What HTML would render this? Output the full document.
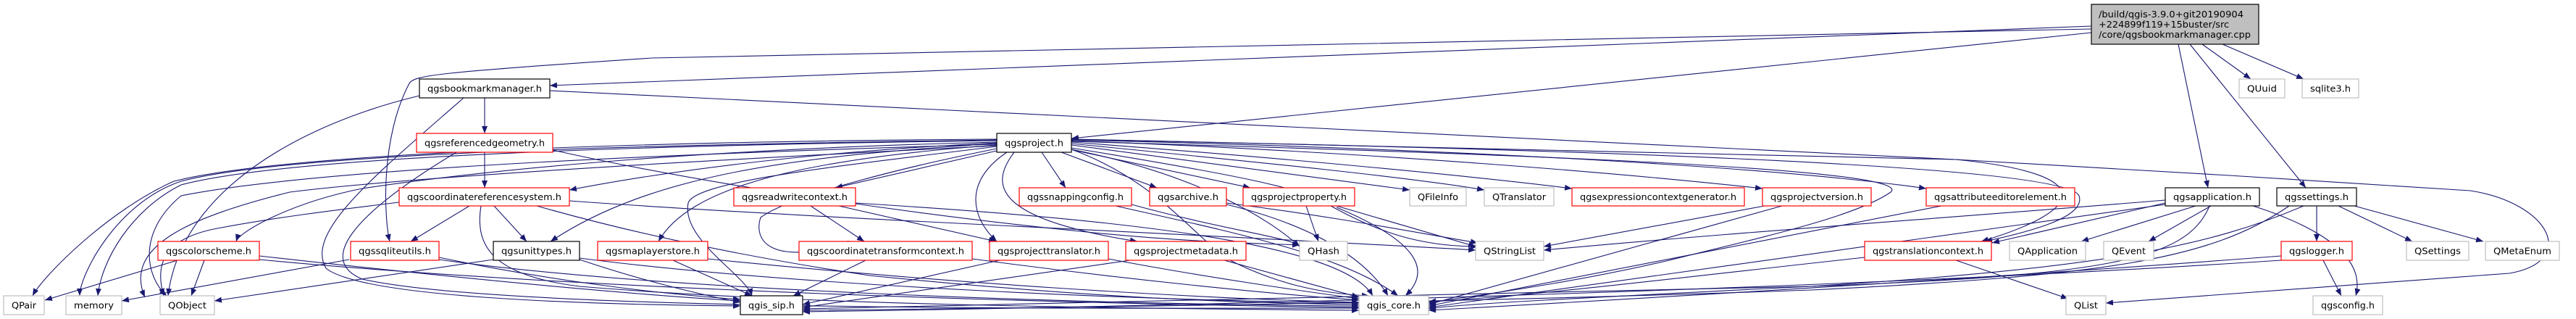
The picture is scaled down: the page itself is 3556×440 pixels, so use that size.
<!DOCTYPE html>
<html><head><meta charset="utf-8"><style>
html,body{margin:0;padding:0;background:#fff;}
svg{display:block;}
text{font-family:"DejaVu Sans","Liberation Sans",sans-serif;font-size:12px;fill:#000;}
.e{fill:none;stroke:#191970;stroke-width:1.1;marker-end:url(#a);}
.bk{fill:#fff;stroke:#000;stroke-width:1.2;}
.rd{fill:#fff;stroke:#ff0000;stroke-width:1.2;}
.gy{fill:#fff;stroke:#bfbfbf;stroke-width:1.2;}
</style></head><body>
<svg width="3556" height="440" viewBox="0 0 3556 440" xmlns="http://www.w3.org/2000/svg">
<defs><marker id="a" markerUnits="userSpaceOnUse" markerWidth="10" markerHeight="8" refX="10" refY="4" orient="auto"><path d="M0,0 L10,4 L0,8 z" fill="#191970"/></marker></defs>
<g>
<!-- main edges -->
<path class="e" d="M2887,36 L759,118"/>
<path class="e" d="M2887,40 L900,80 C600,100 572,104 565,115 C525,190 530,300 538,333"/>
<path class="e" d="M2887,45 L1479,191"/>
<path class="e" d="M3007,61 L3048,259"/>
<path class="e" d="M3023,61 L3183,259"/>
<path class="e" d="M3040,61 L3107,109"/>
<path class="e" d="M3068,61 L3180,109"/>
<!-- bookmarkmanager -->
<path class="e" d="M669,135 L669,184"/>
<path class="e" d="M579,132 C420,170 250,260 232,408"/>
<path class="e" d="M640,135 C520,240 420,320 450,370 C500,410 800,420 1022,422"/>
<path class="e" d="M759,125 L2700,220 C2900,240 2880,290 2735,333"/>
<!-- referencedgeometry -->
<path class="e" d="M669,210 L669,259"/>
<path class="e" d="M763,207 C1000,260 1300,300 1500,320 C1650,335 1750,336 1794,338"/>
<path class="e" d="M630,210 C480,300 440,360 500,385 C700,430 1500,425 1876,425"/>
<!-- crs -->
<path class="e" d="M648,284 L567,333"/>
<path class="e" d="M682,284 L727,333"/>
<path class="e" d="M741,284 C850,315 1000,350 1200,380 C1500,410 1700,418 1876,420"/>
<path class="e" d="M551,279 C460,290 380,300 300,315 C220,330 215,370 226,408"/>
<path class="e" d="M664,284 C655,340 680,380 800,395 C1100,420 1500,425 1876,428"/>
<path class="e" d="M786,277 C1100,300 1600,320 2037,345"/>
<!-- level4 left -->
<path class="e" d="M245,359 L62,414"/>
<path class="e" d="M282,359 L264,408"/>
<path class="e" d="M358,353 C600,380 850,405 1022,415"/>
<path class="e" d="M358,358 C800,400 1500,420 1876,424"/>
<path class="e" d="M482,358 L168,415"/>
<path class="e" d="M606,355 C750,385 900,405 1022,413"/>
<path class="e" d="M606,358 C900,400 1500,420 1876,422"/>
<path class="e" d="M681,358 L296,415"/>
<path class="e" d="M800,358 C880,385 960,405 1022,417"/>
<path class="e" d="M800,356 C1100,395 1600,415 1876,418"/>
<path class="e" d="M929,359 L1038,408"/>
<path class="e" d="M977,357 C1300,390 1650,412 1876,417"/>
<path class="e" d="M1195,359 L1095,408"/>
<path class="e" d="M1342,357 C1550,385 1750,405 1876,414"/>
<path class="e" d="M1380,359 L1108,420"/>
<path class="e" d="M1530,357 C1650,380 1800,402 1876,412"/>
<path class="e" d="M1560,359 C1350,390 1200,410 1108,424"/>
<path class="e" d="M1690,359 L1876,410"/>
<!-- readwritecontext -->
<path class="e" d="M1119,284 L1193,333"/>
<path class="e" d="M1158,284 L1375,333"/>
<path class="e" d="M1181,280 C1500,300 1850,330 1895,408"/>
<!-- qgsproject fan -->
<path class="e" d="M1376,208 L1153,259"/>
<path class="e" d="M1438,210 L1471,259"/>
<path class="e" d="M1465,210 L1597,259"/>
<path class="e" d="M1481,207 L1726,259"/>
<path class="e" d="M1479,200 C1700,230 1850,250 1946,262"/>
<path class="e" d="M1479,198 C1750,225 1950,245 2049,262"/>
<path class="e" d="M1479,196 C1800,220 2050,245 2170,260"/>
<path class="e" d="M1479,194 C1900,210 2250,240 2433,260"/>
<path class="e" d="M1479,193 C2000,205 2450,230 2659,260"/>
<path class="e" d="M1479,192 L2700,220 C2900,230 3200,250 3410,263 C3520,280 3560,360 3464,377 L2907,418"/>
<path class="e" d="M1479,195 C2000,210 2650,230 2610,265 C2560,300 2420,330 2300,360 C2150,395 2000,412 1972,418"/>
<path class="e" d="M1479,192 C2100,205 2850,225 2870,270 C2880,300 2800,320 2740,333"/>
<path class="e" d="M1479,204 C1700,240 1800,260 1830,280 C1900,320 1960,340 2040,340"/>
<path class="e" d="M1479,206 C1650,240 1750,300 1794,340"/>
<path class="e" d="M1390,210 C1330,250 1340,300 1376,333"/>
<path class="e" d="M1400,210 C1370,250 1360,300 1570,333"/>
<path class="e" d="M1376,205 C1250,230 1090,270 1050,300 C1040,330 1060,370 1180,333"/>
<path class="e" d="M1376,202 C1150,230 960,250 950,280 C940,330 1030,380 1038,408"/>
<path class="e" d="M1376,200 C1100,220 950,260 909,333"/>
<path class="e" d="M1376,198 C1100,215 900,240 760,333"/>
<path class="e" d="M1376,197 C1100,210 900,240 786,262"/>
<path class="e" d="M1376,196 C1000,205 700,230 500,260 C400,280 330,320 326,333"/>
<path class="e" d="M1376,194 C900,200 400,215 250,255 C180,290 140,360 135,408"/>
<path class="e" d="M1376,193 C900,200 400,210 250,250 C160,280 110,380 110,408"/>
<path class="e" d="M1376,192 C900,195 400,210 240,250 C150,290 60,380 45,408"/>
<path class="e" d="M1376,199 C1000,210 450,230 250,270 C190,320 200,380 230,408"/>
<path class="e" d="M1376,201 C1100,215 600,240 400,265 C260,300 170,340 200,410"/>
<path class="e" d="M1479,206 C1600,250 1650,330 1700,360 C1760,390 1820,405 1890,408"/>
<!-- right level3 -->
<path class="e" d="M1540,284 C1700,320 1850,350 1930,408"/>
<path class="e" d="M1562,282 C1700,320 1800,330 1794,342"/>
<path class="e" d="M1693,282 C1850,320 1900,380 1916,408"/>
<path class="e" d="M1693,280 C1850,300 1950,320 2040,335"/>
<path class="e" d="M1803,284 L1820,333"/>
<path class="e" d="M1845,284 L2037,340"/>
<path class="e" d="M1845,286 C1950,330 1980,370 1940,408"/>
<path class="e" d="M2436,284 L2131,340"/>
<path class="e" d="M2460,284 L1972,420"/>
<path class="e" d="M2680,284 L1972,422"/>
<!-- qgsapplication -->
<path class="e" d="M3031,284 L2873,333"/>
<path class="e" d="M3052,284 L2966,333"/>
<path class="e" d="M3110,284 C3160,300 3270,340 3252,408"/>
<path class="e" d="M2989,280 L2750,335"/>
<path class="e" d="M2989,276 C2700,300 2400,320 2131,345"/>
<path class="e" d="M2989,282 C2700,320 2300,380 1972,424"/>
<path class="e" d="M3050,284 C3020,360 2900,380 2500,395 C2000,410 1500,420 1108,426"/>
<!-- settings -->
<path class="e" d="M3198,284 L3198,333"/>
<path class="e" d="M3228,284 L3330,333"/>
<path class="e" d="M3250,284 L3428,333"/>
<path class="e" d="M3180,284 C3050,340 2900,370 2500,395 C2200,410 2000,420 1972,426"/>
<path class="e" d="M3160,284 C3050,360 2900,380 2500,400 C2000,418 1500,424 1108,428"/>
<!-- logger, translationcontext -->
<path class="e" d="M3207,359 L3232,408"/>
<path class="e" d="M3149,353 C2800,380 2300,410 1972,428"/>
<path class="e" d="M3149,359 C2600,395 1800,420 1108,430"/>
<path class="e" d="M2700,359 L2855,412"/>
<path class="e" d="M2574,355 C2300,385 2100,410 1972,416"/>
</g>
<!-- nodes -->
<g>
<rect class="gy" x="2887" y="6" width="231" height="55" style="fill:#bfbfbf;stroke:#000"/>
<text x="2897" y="24" textLength="200" lengthAdjust="spacingAndGlyphs">/build/qgis-3.9.0+git20190904</text>
<text x="2897" y="38" textLength="180" lengthAdjust="spacingAndGlyphs">+224899f119+15buster/src</text>
<text x="2897" y="52" textLength="210" lengthAdjust="spacingAndGlyphs">/core/qgsbookmarkmanager.cpp</text>

<rect class="bk" x="579" y="109" width="180" height="26"/><text x="669" y="126.5" text-anchor="middle" textLength="158" lengthAdjust="spacingAndGlyphs">qgsbookmarkmanager.h</text>
<rect class="rd" x="575" y="184" width="188" height="26"/><text x="669" y="201.5" text-anchor="middle" textLength="166" lengthAdjust="spacingAndGlyphs">qgsreferencedgeometry.h</text>
<rect class="bk" x="1376" y="184" width="103" height="26"/><text x="1427.5" y="201.5" text-anchor="middle" textLength="81" lengthAdjust="spacingAndGlyphs">qgsproject.h</text>
<rect class="gy" x="3091" y="109" width="63" height="26"/><text x="3122.5" y="126.5" text-anchor="middle" textLength="41" lengthAdjust="spacingAndGlyphs">QUuid</text>
<rect class="gy" x="3178" y="109" width="78" height="26"/><text x="3217" y="126.5" text-anchor="middle" textLength="56" lengthAdjust="spacingAndGlyphs">sqlite3.h</text>

<rect class="rd" x="551" y="259" width="235" height="25"/><text x="668.5" y="276" text-anchor="middle" textLength="213" lengthAdjust="spacingAndGlyphs">qgscoordinatereferencesystem.h</text>
<rect class="rd" x="1013" y="259" width="168" height="25"/><text x="1097" y="276" text-anchor="middle" textLength="146" lengthAdjust="spacingAndGlyphs">qgsreadwritecontext.h</text>
<rect class="rd" x="1407" y="259" width="155" height="25"/><text x="1484.5" y="276" text-anchor="middle" textLength="133" lengthAdjust="spacingAndGlyphs">qgssnappingconfig.h</text>
<rect class="rd" x="1587" y="259" width="106" height="25"/><text x="1640" y="276" text-anchor="middle" textLength="84" lengthAdjust="spacingAndGlyphs">qgsarchive.h</text>
<rect class="rd" x="1716" y="259" width="154" height="25"/><text x="1793" y="276" text-anchor="middle" textLength="132" lengthAdjust="spacingAndGlyphs">qgsprojectproperty.h</text>
<rect class="gy" x="1946" y="259" width="78" height="25"/><text x="1985" y="276" text-anchor="middle" textLength="56" lengthAdjust="spacingAndGlyphs">QFileInfo</text>
<rect class="gy" x="2049" y="259" width="96" height="25"/><text x="2097" y="276" text-anchor="middle" textLength="74" lengthAdjust="spacingAndGlyphs">QTranslator</text>
<rect class="rd" x="2170" y="259" width="238" height="25"/><text x="2289" y="276" text-anchor="middle" textLength="216" lengthAdjust="spacingAndGlyphs">qgsexpressioncontextgenerator.h</text>
<rect class="rd" x="2433" y="259" width="150" height="25"/><text x="2508" y="276" text-anchor="middle" textLength="128" lengthAdjust="spacingAndGlyphs">qgsprojectversion.h</text>
<rect class="rd" x="2659" y="259" width="205" height="25"/><text x="2761.5" y="276" text-anchor="middle" textLength="183" lengthAdjust="spacingAndGlyphs">qgsattributeeditorelement.h</text>
<rect class="bk" x="2989" y="259" width="130" height="25"/><text x="3054" y="276" text-anchor="middle" textLength="108" lengthAdjust="spacingAndGlyphs">qgsapplication.h</text>
<rect class="bk" x="3143" y="259" width="110" height="25"/><text x="3198" y="276" text-anchor="middle" textLength="88" lengthAdjust="spacingAndGlyphs">qgssettings.h</text>

<rect class="rd" x="218" y="333" width="140" height="26"/><text x="288" y="350.5" text-anchor="middle" textLength="118" lengthAdjust="spacingAndGlyphs">qgscolorscheme.h</text>
<rect class="rd" x="484" y="333" width="122" height="26"/><text x="545" y="350.5" text-anchor="middle" textLength="100" lengthAdjust="spacingAndGlyphs">qgssqliteutils.h</text>
<rect class="bk" x="681" y="333" width="119" height="26"/><text x="740.5" y="350.5" text-anchor="middle" textLength="97" lengthAdjust="spacingAndGlyphs">qgsunittypes.h</text>
<rect class="rd" x="825" y="333" width="152" height="26"/><text x="901" y="350.5" text-anchor="middle" textLength="130" lengthAdjust="spacingAndGlyphs">qgsmaplayerstore.h</text>
<rect class="rd" x="1103" y="333" width="239" height="26"/><text x="1222.5" y="350.5" text-anchor="middle" textLength="217" lengthAdjust="spacingAndGlyphs">qgscoordinatetransformcontext.h</text>
<rect class="rd" x="1366" y="333" width="164" height="26"/><text x="1448" y="350.5" text-anchor="middle" textLength="142" lengthAdjust="spacingAndGlyphs">qgsprojecttranslator.h</text>
<rect class="rd" x="1554" y="333" width="166" height="26"/><text x="1637" y="350.5" text-anchor="middle" textLength="144" lengthAdjust="spacingAndGlyphs">qgsprojectmetadata.h</text>
<rect class="gy" x="1794" y="333" width="66" height="26"/><text x="1827" y="350.5" text-anchor="middle" textLength="44" lengthAdjust="spacingAndGlyphs">QHash</text>
<rect class="gy" x="2037" y="333" width="94" height="26"/><text x="2084" y="350.5" text-anchor="middle" textLength="72" lengthAdjust="spacingAndGlyphs">QStringList</text>
<rect class="rd" x="2574" y="333" width="175" height="26"/><text x="2661.5" y="350.5" text-anchor="middle" textLength="153" lengthAdjust="spacingAndGlyphs">qgstranslationcontext.h</text>
<rect class="gy" x="2774" y="333" width="105" height="26"/><text x="2826.5" y="350.5" text-anchor="middle" textLength="83" lengthAdjust="spacingAndGlyphs">QApplication</text>
<rect class="gy" x="2904" y="333" width="69" height="26"/><text x="2938.5" y="350.5" text-anchor="middle" textLength="47" lengthAdjust="spacingAndGlyphs">QEvent</text>
<rect class="rd" x="3149" y="333" width="98" height="26"/><text x="3198" y="350.5" text-anchor="middle" textLength="76" lengthAdjust="spacingAndGlyphs">qgslogger.h</text>
<rect class="gy" x="3322" y="333" width="86" height="26"/><text x="3365" y="350.5" text-anchor="middle" textLength="64" lengthAdjust="spacingAndGlyphs">QSettings</text>
<rect class="gy" x="3431" y="333" width="102" height="26"/><text x="3482" y="350.5" text-anchor="middle" textLength="80" lengthAdjust="spacingAndGlyphs">QMetaEnum</text>

<rect class="gy" x="5" y="408" width="56" height="26"/><text x="33" y="425.5" text-anchor="middle" textLength="34" lengthAdjust="spacingAndGlyphs">QPair</text>
<rect class="gy" x="91" y="408" width="77" height="26"/><text x="129.5" y="425.5" text-anchor="middle" textLength="55" lengthAdjust="spacingAndGlyphs">memory</text>
<rect class="gy" x="221" y="408" width="75" height="26"/><text x="258.5" y="425.5" text-anchor="middle" textLength="53" lengthAdjust="spacingAndGlyphs">QObject</text>
<rect class="bk" x="1022" y="408" width="86" height="26"/><text x="1065" y="425.5" text-anchor="middle" textLength="64" lengthAdjust="spacingAndGlyphs">qgis_sip.h</text>
<rect class="gy" x="1876" y="408" width="96" height="26"/><text x="1924" y="425.5" text-anchor="middle" textLength="74" lengthAdjust="spacingAndGlyphs">qgis_core.h</text>
<rect class="gy" x="2852" y="408" width="55" height="26"/><text x="2879.5" y="425.5" text-anchor="middle" textLength="33" lengthAdjust="spacingAndGlyphs">QList</text>
<rect class="gy" x="3193" y="408" width="96" height="26"/><text x="3241" y="425.5" text-anchor="middle" textLength="74" lengthAdjust="spacingAndGlyphs">qgsconfig.h</text>
</g>
</svg>
</body></html>
